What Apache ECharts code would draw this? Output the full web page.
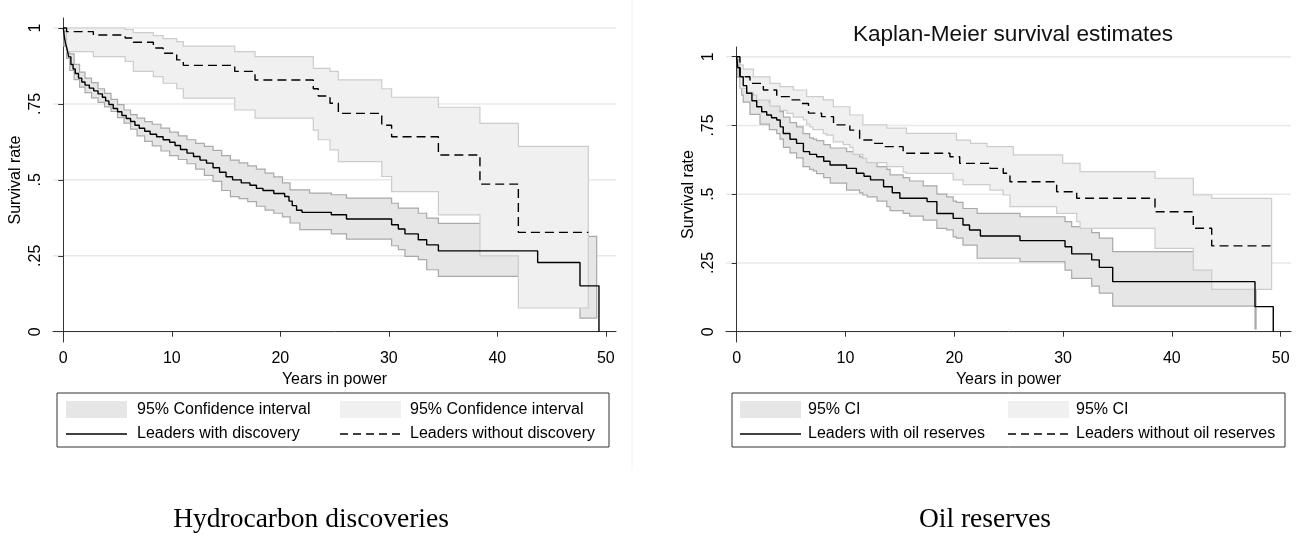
<!DOCTYPE html>
<html>
<head>
<meta charset="utf-8">
<script src="https://cdn.jsdelivr.net/npm/echarts@6/dist/echarts.min.js"></script>
<style>
html,body{margin:0;padding:0;background:#fff}
#chart{width:1309px;height:537px}
</style>
</head>
<body>
<div id="chart"></div>
<script>
// ticks
var xTicks = [0, 10, 20, 30, 40, 50];
var yTicks = [0, 0.25, 0.5, 0.75, 1];

// ---- Hydrocarbon discoveries ----
// leaders with discovery (solid KM)
var hcWithT = [0, 0.1, 0.2, 0.35, 0.5, 0.7, 0.9, 1.1, 1.4, 1.7, 2.0, 2.4, 2.8, 3.2, 3.6, 3.9, 4.2, 4.6, 5.0, 5.4,
    5.8, 6.2, 6.6, 7.0, 7.5, 8.0, 8.6, 9.2, 9.8, 10.3, 10.8, 11.4, 12.0, 12.6, 13.2, 13.8, 14.4, 15.0, 15.6, 16.4,
    17.2, 17.8, 18.4, 19.4, 20.4, 20.8, 21.1, 21.5, 22.0, 24.7, 26.1, 30.26, 30.88, 31.49, 32.72, 33.49, 34.57, 43.72, 47.62];
var hcWithS = [1, 0.97, 0.95, 0.93, 0.905, 0.88, 0.865, 0.85, 0.835, 0.822, 0.812, 0.802, 0.793, 0.783, 0.772, 0.76, 0.748, 0.735, 0.724, 0.712,
    0.702, 0.692, 0.68, 0.67, 0.66, 0.65, 0.642, 0.632, 0.624, 0.613, 0.6, 0.588, 0.577, 0.565, 0.555, 0.54, 0.525, 0.51, 0.5, 0.49,
    0.482, 0.472, 0.465, 0.455, 0.445, 0.43, 0.415, 0.4, 0.393, 0.385, 0.371, 0.352, 0.338, 0.322, 0.303, 0.286, 0.266, 0.228, 0.151];
var hcWithEnd = [49.37, 0];
var hcWithCiT = [0.05, 0.3, 0.6, 1.0, 1.5, 2.0, 2.6, 3.2, 3.8, 4.4, 5.0, 5.6, 6.2, 6.8, 7.5, 8.2, 9.0, 9.8, 10.6, 11.4,
    12.2, 13.0, 13.8, 14.6, 15.4, 16.2, 17.0, 17.8, 18.6, 19.4, 20.2, 20.9, 21.8, 22.7, 24.7, 26.1, 30.26, 30.88, 31.49, 32.72,
    33.49, 34.57, 43.72, 47.62, 49.16];
var hcWithCiHi = [0.99, 0.95, 0.915, 0.88, 0.855, 0.835, 0.82, 0.8, 0.785, 0.765, 0.748, 0.73, 0.715, 0.703, 0.692, 0.683, 0.67, 0.657, 0.645, 0.632,
    0.62, 0.61, 0.597, 0.58, 0.565, 0.556, 0.546, 0.535, 0.522, 0.51, 0.49, 0.467, 0.467, 0.456, 0.451, 0.44, 0.423, 0.407, 0.407, 0.39,
    0.374, 0.357, 0.33, 0.314];
var hcWithCiLo = [0.94, 0.9, 0.86, 0.83, 0.805, 0.787, 0.77, 0.755, 0.74, 0.725, 0.705, 0.687, 0.667, 0.645, 0.627, 0.612, 0.595, 0.58, 0.567, 0.553,
    0.535, 0.515, 0.495, 0.465, 0.445, 0.438, 0.428, 0.413, 0.4, 0.39, 0.378, 0.358, 0.336, 0.336, 0.322, 0.305, 0.283, 0.27, 0.248, 0.237,
    0.204, 0.182, 0.11, 0.045];
// leaders without discovery (dashed KM)
var hcWithoutT = [0, 0.3, 2.77, 5.7, 6.45, 8.3, 9.2, 10.45, 11.06, 15.8, 17.67, 23.04, 23.5, 24.58, 25.35, 29.35, 30.26, 34.57, 38.4, 41.94];
var hcWithoutS = [1, 0.988, 0.977, 0.967, 0.953, 0.934, 0.917, 0.895, 0.877, 0.857, 0.829, 0.8, 0.776, 0.752, 0.719, 0.68, 0.642, 0.582, 0.486, 0.327];
var hcWithoutEnd = [48.39, 0.327];
var hcWithoutCiT = [0.3, 2.77, 5.7, 6.45, 8.3, 9.2, 10.45, 11.06, 15.8, 17.67, 23.04, 23.5, 24.58, 25.35, 29.35, 30.26, 34.57, 38.4, 41.94, 48.39];
var hcWithoutCiHi = [1, 1, 0.995, 0.985, 0.975, 0.965, 0.955, 0.94, 0.922, 0.906, 0.867, 0.867, 0.857, 0.829, 0.8, 0.772, 0.739, 0.686, 0.61];
var hcWithoutCiLo = [0.922, 0.906, 0.89, 0.857, 0.84, 0.818, 0.8, 0.769, 0.73, 0.703, 0.664, 0.632, 0.599, 0.56, 0.511, 0.461, 0.385, 0.25, 0.078];

// ---- Oil reserves ----
var oilWithT = [0, 0.1, 0.3, 0.6, 0.92, 1.4, 1.84, 2.3, 2.76, 3.2, 3.68, 4.0, 4.28, 4.9, 5.5, 6.13, 6.7, 7.35, 8.0, 8.58,
    10.1, 11.0, 11.7, 12.3, 13.5, 14.3, 15.0, 17.5, 18.4, 19.9, 20.8, 21.4, 22.4, 26.04, 30.18, 30.79, 32.63, 33.33, 34.56, 47.64];
var oilWithS = [1, 0.96, 0.927, 0.895, 0.867, 0.84, 0.818, 0.8, 0.788, 0.778, 0.77, 0.745, 0.721, 0.7, 0.685, 0.655, 0.645, 0.636, 0.62, 0.606,
    0.594, 0.576, 0.565, 0.552, 0.527, 0.505, 0.485, 0.473, 0.43, 0.412, 0.388, 0.37, 0.348, 0.331, 0.309, 0.283, 0.261, 0.234, 0.182, 0.091];
var oilWithEnd = [49.32, 0];
var oilWithCiT = [0.1, 0.3, 0.46, 0.6, 1.22, 2.14, 3.0, 3.68, 3.98, 4.3, 4.9, 5.5, 6.1, 6.7, 7.04, 7.35, 8.0, 8.6, 10.1, 11.3,
    11.6, 12.0, 12.9, 13.8, 14.1, 15.3, 15.9, 17.15, 18.4, 19.3, 19.9, 20.2, 20.8, 22.1, 26.04, 30.18, 30.79, 32.63, 33.33, 34.56,
    47.64, 47.74];
var oilWithCiHi = [0.99, 0.965, 0.95, 0.925, 0.89, 0.855, 0.835, 0.82, 0.8, 0.78, 0.76, 0.745, 0.72, 0.705, 0.7, 0.695, 0.68, 0.668, 0.655, 0.636,
    0.63, 0.62, 0.6, 0.59, 0.57, 0.56, 0.548, 0.53, 0.5, 0.49, 0.475, 0.47, 0.448, 0.43, 0.418, 0.4, 0.382, 0.36, 0.34, 0.291, 0.29];
var oilWithCiLo = [0.925, 0.89, 0.86, 0.835, 0.79, 0.755, 0.735, 0.72, 0.7, 0.67, 0.65, 0.632, 0.6, 0.59, 0.585, 0.575, 0.56, 0.54, 0.515, 0.505,
    0.497, 0.49, 0.475, 0.455, 0.44, 0.43, 0.42, 0.406, 0.376, 0.37, 0.345, 0.34, 0.315, 0.267, 0.255, 0.224, 0.194, 0.166, 0.14, 0.093, 0.01];
var oilWithoutT = [0, 0.3, 1.22, 2.45, 3.68, 4.9, 5.8, 6.6, 7.8, 8.9, 10.4, 11.3, 12.5, 13.5, 15.3, 19.6, 20.5, 23.28, 24.5, 25.12, 29.41, 31.25, 38.45, 41.97, 43.66];
var oilWithoutS = [1, 0.927, 0.903, 0.879, 0.855, 0.843, 0.83, 0.795, 0.782, 0.752, 0.733, 0.697, 0.685, 0.673, 0.649, 0.636, 0.612, 0.594, 0.576, 0.545, 0.509, 0.485, 0.436, 0.376, 0.312];
var oilWithoutEnd = [49.17, 0.312];
var oilWithoutCiT = [0.3, 0.6, 0.92, 1.53, 1.84, 3.06, 3.98, 4.6, 5.2, 6.13, 6.43, 6.74, 7.0, 7.96, 8.27, 8.88, 9.8, 10.4, 10.7, 11.6,
    11.95, 13.8, 15.3, 15.6, 19.9, 20.2, 20.8, 21.5, 23.0, 23.28, 24.5, 25.12, 25.43, 29.41, 29.96, 31.25, 31.56, 38.45, 41.97, 43.66, 49.17];
var oilWithoutCiHi = [0.97, 0.955, 0.955, 0.927, 0.927, 0.903, 0.891, 0.891, 0.879, 0.879, 0.855, 0.855, 0.855, 0.843, 0.843, 0.818, 0.818, 0.788, 0.788, 0.752,
    0.752, 0.74, 0.74, 0.721, 0.721, 0.697, 0.697, 0.685, 0.673, 0.673, 0.673, 0.673, 0.643, 0.643, 0.612, 0.612, 0.582, 0.558, 0.497, 0.485];
var oilWithoutCiLo = [0.885, 0.885, 0.87, 0.86, 0.842, 0.82, 0.805, 0.794, 0.78, 0.77, 0.755, 0.745, 0.735, 0.72, 0.715, 0.69, 0.68, 0.67, 0.645, 0.63,
    0.615, 0.6, 0.58, 0.576, 0.552, 0.552, 0.535, 0.535, 0.535, 0.515, 0.497, 0.455, 0.455, 0.43, 0.43, 0.4, 0.376, 0.303, 0.224, 0.154];

var FONT = 'Liberation Sans, Arial, sans-serif';
var bandDark = '#e6e6e6', bandDarkLine = '#a9a9a9';
var bandLight = '#f0f0f0', bandLightLine = '#cccccc';

function kmData(T, S, end) {
    var d = [];
    for (var i = 0; i < T.length; i++) d.push([T[i], S[i]]);
    d.push(end);
    return d;
}

function kmLine(gi, T, S, end, dashed) {
    return {
        type: 'line', xAxisIndex: gi, yAxisIndex: gi, step: 'end', symbol: 'none', silent: true, z: 5,
        data: kmData(T, S, end),
        lineStyle: { color: '#000', width: 1.4, type: dashed ? [9, 5] : 'solid' }
    };
}

// confidence band as one stepped polygon
function band(gi, T, lo, hi, fill, stroke, z) {
    return {
        type: 'custom', xAxisIndex: gi, yAxisIndex: gi, silent: true, z: z,
        data: [[T[0], lo[0]]],
        renderItem: function (params, api) {
            var pts = [], i;
            for (i = 0; i < hi.length; i++) {
                pts.push(api.coord([T[i], hi[i]]));
                pts.push(api.coord([T[i + 1], hi[i]]));
            }
            for (i = lo.length - 1; i >= 0; i--) {
                pts.push(api.coord([T[i + 1], lo[i]]));
                pts.push(api.coord([T[i], lo[i]]));
            }
            return { type: 'polygon', shape: { points: pts }, style: { fill: fill, stroke: stroke, lineWidth: 1.2 } };
        }
    };
}

// horizontal grid lines at the y ticks
function gridLines(gi) {
    return {
        type: 'custom', xAxisIndex: gi, yAxisIndex: gi, silent: true, z: 0,
        data: yTicks.map(function (v) { return [0, v]; }),
        renderItem: function (params, api) {
            var cs = params.coordSys;
            var y = api.coord([0, api.value(1)])[1];
            return { type: 'line', shape: { x1: cs.x, y1: y, x2: cs.x + cs.width, y2: y },
                style: { stroke: '#e8e8e8', lineWidth: 1.5 } };
        }
    };
}

function xAx(gi, min, max) {
    return {
        type: 'value', gridIndex: gi, min: min, max: max,
        name: 'Years in power', nameLocation: 'middle', nameGap: 26,
        nameTextStyle: { fontFamily: FONT, fontSize: 16, color: '#000' },
        axisLine: { lineStyle: { color: '#333', width: 1 } },
        axisTick: { customValues: xTicks, length: 5, lineStyle: { color: '#333' } },
        axisLabel: { customValues: xTicks, margin: 9, fontFamily: FONT, fontSize: 16, color: '#000' },
        splitLine: { show: false }
    };
}

function yAx(gi, min, max) {
    return {
        type: 'value', gridIndex: gi, min: min, max: max,
        name: 'Survival rate', nameLocation: 'middle', nameGap: 29,
        nameTextStyle: { fontFamily: FONT, fontSize: 16, color: '#000' },
        axisLine: { show: true, lineStyle: { color: '#333', width: 1 } },
        axisTick: { show: true, customValues: yTicks, length: 5, lineStyle: { color: '#333' } },
        axisLabel: {
            customValues: yTicks, rotate: 90, margin: 9, fontFamily: FONT, fontSize: 16, color: '#000',
            formatter: function (v) { return v === 0 ? '0' : v === 1 ? '1' : String(v).replace('0.', '.'); }
        },
        splitLine: { show: false }
    };
}

// legend box; off = [swatch1 x, text1 x, swatch2 x, text2 x] relative to box left
function legendBox(x0, w, off, labels) {
    var t = { fill: '#000', verticalAlign: 'middle', textVerticalAlign: 'middle' };
    function txt(x, y, s) {
        return { type: 'text', x: x, y: y, style: Object.assign({ text: s, font: '16px ' + FONT }, t) };
    }
    return [
        { type: 'rect', shape: { x: x0, y: 393, width: w, height: 54 }, style: { fill: '#fff', stroke: '#333', lineWidth: 1 } },
        { type: 'rect', shape: { x: x0 + off[0], y: 401, width: 61, height: 17 }, style: { fill: bandDark } },
        txt(x0 + off[1], 410, labels[0]),
        { type: 'rect', shape: { x: x0 + off[2], y: 401, width: 61, height: 17 }, style: { fill: bandLight } },
        txt(x0 + off[3], 410, labels[1]),
        { type: 'line', shape: { x1: x0 + off[0], y1: 434, x2: x0 + off[0] + 61, y2: 434 }, style: { stroke: '#000', lineWidth: 1.4 } },
        txt(x0 + off[1], 434, labels[2]),
        { type: 'line', shape: { x1: x0 + off[2], y1: 434, x2: x0 + off[2] + 61, y2: 434 }, style: { stroke: '#000', lineWidth: 1.4, lineDash: [8, 5] } },
        txt(x0 + off[3], 434, labels[3])
    ];
}

var chart = echarts.init(document.getElementById('chart'), null, { renderer: 'canvas' });

var captionStyle = { font: '27.5px Liberation Serif, serif', fill: '#000', align: 'center', verticalAlign: 'middle', textAlign: 'center', textVerticalAlign: 'middle' };
var graphics = [
    { type: 'line', shape: { x1: 632, y1: 0, x2: 632, y2: 470 }, style: { stroke: '#f2f2f2', lineWidth: 1 } },
    { type: 'text', x: 311, y: 520, style: Object.assign({ text: 'Hydrocarbon discoveries' }, captionStyle) },
    { type: 'text', x: 985, y: 520, style: Object.assign({ text: 'Oil reserves' }, captionStyle) }
].concat(
    legendBox(57, 552, [9, 80, 283, 353], ['95% Confidence interval', '95% Confidence interval', 'Leaders with discovery', 'Leaders without discovery']),
    legendBox(732, 553, [8, 76, 276, 344], ['95% CI', '95% CI', 'Leaders with oil reserves', 'Leaders without oil reserves'])
);

chart.setOption({
    animation: false,
    backgroundColor: '#fff',
    title: [{
        text: 'Kaplan-Meier survival estimates', left: 1008, top: 18, textAlign: 'center',
        textStyle: { fontFamily: FONT, fontSize: 22.6, fontWeight: 'normal', color: '#111' }
    }],
    grid: [
        { left: 53, top: 18, width: 563, height: 324 },
        { left: 726, top: 47, width: 565, height: 295 }
    ],
    xAxis: [xAx(0, -0.95, 50.94), xAx(1, -0.983, 50.95)],
    yAxis: [yAx(0, -0.0339, 1.0329), yAx(1, -0.0375, 1.0353)],
    graphic: graphics,
    series: [
        gridLines(0),
        band(0, hcWithCiT, hcWithCiLo, hcWithCiHi, bandDark, bandDarkLine, 1),
        band(0, hcWithoutCiT, hcWithoutCiLo, hcWithoutCiHi, bandLight, bandLightLine, 2),
        kmLine(0, hcWithT, hcWithS, hcWithEnd, false),
        kmLine(0, hcWithoutT, hcWithoutS, hcWithoutEnd, true),
        gridLines(1),
        band(1, oilWithCiT, oilWithCiLo, oilWithCiHi, bandDark, bandDarkLine, 1),
        band(1, oilWithoutCiT, oilWithoutCiLo, oilWithoutCiHi, bandLight, bandLightLine, 2),
        kmLine(1, oilWithT, oilWithS, oilWithEnd, false),
        kmLine(1, oilWithoutT, oilWithoutS, oilWithoutEnd, true)
    ]
});
</script>
</body>
</html>
